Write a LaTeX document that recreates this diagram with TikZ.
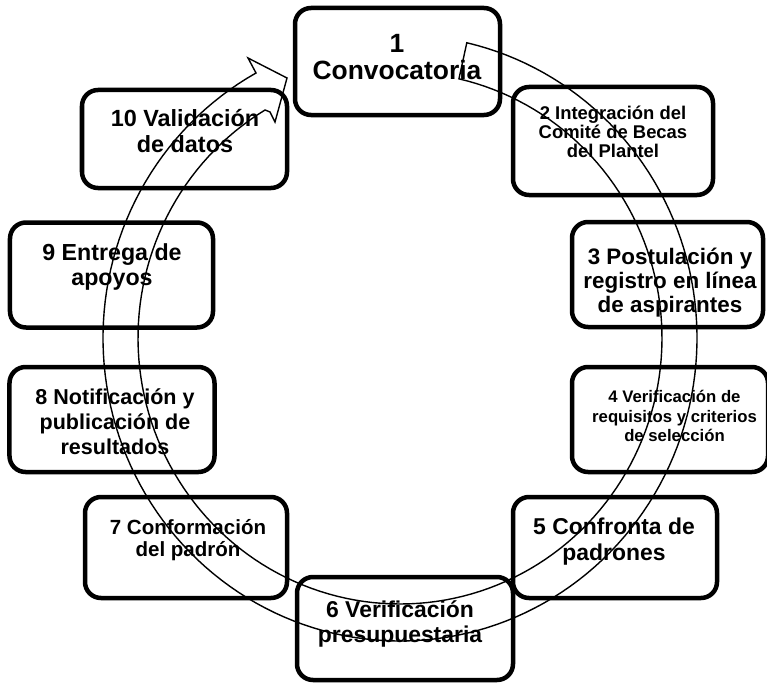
\documentclass[tikz,border=0pt]{standalone}
\usepackage{fontspec}
\setmainfont{Liberation Sans}
\begin{document}
\begin{tikzpicture}[x=1bp,y=-1bp,
  box/.style={draw=black, line width=4.5bp, rounded corners=16bp, inner sep=0pt, fill=none},
  lbl/.style={align=center, font=\bfseries, inner sep=0pt},
  ring/.style={draw=black, line width=1.4bp, line join=miter}]
\useasboundingbox (0,0) rectangle (767,684);
% ring (circular arrow)
\coordinate (obarb) at (248,58);
\coordinate (tip) at (287,78);
\coordinate (ibarb) at (275,122);
\coordinate (inotch) at (270,112);
\draw[ring] plot[domain=-239:77, samples=160] ({400+262*cos(\x)},{338-266*sin(\x)})
  -- plot[domain=-77:241, samples=160] ({400+297*cos(\x)},{338+303*sin(\x)})
  -- (obarb) -- (tip) -- (ibarb) -- (inotch) -- cycle;
% boxes
\node[box, minimum width=205bp, minimum height=107bp] (b1) at (397.5,61.5) {};
\node[box, minimum width=200bp, minimum height=108bp] (b2) at (613,141) {};
\node[box, minimum width=191bp, minimum height=105bp] (b3) at (667.5,274.5) {};
\node[box, minimum width=196bp, minimum height=105bp] (b4) at (670,419.5) {};
\node[box, minimum width=204bp, minimum height=101bp] (b5) at (615,547.5) {};
\node[box, minimum width=216bp, minimum height=103bp] (b6) at (405,628.5) {};
\node[box, minimum width=202bp, minimum height=101bp] (b7) at (186,547.5) {};
\node[box, minimum width=205bp, minimum height=105bp] (b8) at (112,419.5) {};
\node[box, minimum width=203bp, minimum height=105bp] (b9) at (111.5,275) {};
\node[box, minimum width=205bp, minimum height=98bp] (b10) at (184.5,139) {};
% labels
\node[lbl, font=\bfseries\fontsize{26.5}{27}\selectfont] (t1) at (397,57) {1\\Convocatoria};
\node[lbl, font=\bfseries\fontsize{18.5}{19}\selectfont] (t2) at (613,132) {2 Integración del\\Comité de Becas\\del Plantel};
\node[lbl, font=\bfseries\fontsize{22.5}{24}\selectfont] (t3) at (670,283) {3 Postulación y\\registro en línea\\de aspirantes};
\node[lbl, font=\bfseries\fontsize{16.8}{20}\selectfont] (t4) at (674.5,416) {4 Verificación de\\requisitos y criterios\\de selección};
\node[lbl, font=\bfseries\fontsize{23}{26}\selectfont] (t5) at (614,542) {5 Confronta de\\padrones};
\node[lbl, font=\bfseries\fontsize{23}{25}\selectfont] (t6) at (400,624) {6 Verificación\\presupuestaria};
\node[lbl, font=\bfseries\fontsize{20.6}{22}\selectfont] (t7) at (188,540) {7 Conformación\\del padrón};
\node[lbl, font=\bfseries\fontsize{21.6}{25}\selectfont] (t8) at (115,422) {8 Notificación y\\publicación de\\resultados};
\node[lbl, font=\bfseries\fontsize{23.3}{25}\selectfont] (t9) at (112,267) {9 Entrega de\\apoyos};
\node[lbl, font=\bfseries\fontsize{23.5}{27}\selectfont] (t10) at (185,131) {10 Validación\\de datos};
\end{tikzpicture}
\end{document}
